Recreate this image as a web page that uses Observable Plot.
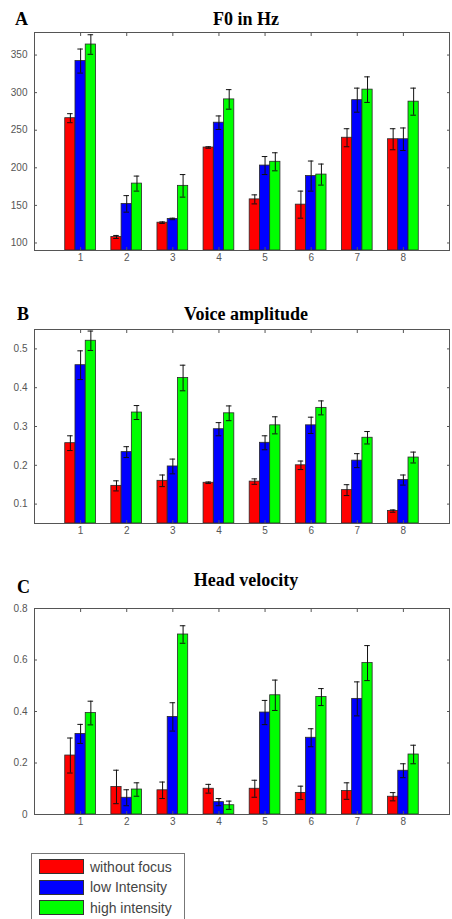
<!DOCTYPE html>
<html>
<head>
<meta charset="utf-8">
<script src="https://cdn.jsdelivr.net/npm/d3@7"></script>
<script src="https://cdn.jsdelivr.net/npm/@observablehq/plot@0.6"></script>
<style>
  body { margin: 0; background: #fff; }
  #root { position: relative; width: 452px; height: 919px; overflow: hidden; background: #fff; }
  .panel { position: absolute; left: 0; }
  .title { position: absolute; font-family: "Liberation Serif", "Times New Roman", serif; font-weight: bold;
           font-size: 18px; line-height: 18px; color: #000; white-space: nowrap; }
  .ctitle { text-align: center; }
  #legend { position: absolute; left: 31px; top: 853px; width: 152px; height: 80px; border: 1px solid #777; background: #fff; }
  .lrow { position: absolute; left: 7px; height: 15px; display: flex; align-items: center; }
  .sw { width: 43px; height: 13px; border: 1px solid #333; }
  .lt { margin-left: 6px; font-family: "Liberation Sans", Arial, sans-serif; font-size: 14px; color: #444; white-space: nowrap; }
</style>
</head>
<body>
<div id="root"></div>
<script>
// ---- data ----
const categories = [1, 2, 3, 4, 5, 6, 7, 8];
const series = ["without focus", "low Intensity", "high intensity"];
const seriesColors = ["#ff0000", "#0000ff", "#00ff00"];

// Panel A: F0 in Hz
const f0Without = [266, 108, 127, 227, 158, 151, 240, 238];
const f0WithoutErr = [6, 2, 1, 1, 6, 18, 12, 14];
const f0Low = [342, 152, 132, 260, 203, 189, 290, 238];
const f0LowErr = [16, 11, 1, 9, 12, 20, 16, 15];
const f0High = [364, 179, 176, 291, 208, 191, 304, 288];
const f0HighErr = [13, 10, 15, 13, 12, 14, 17, 18];
const f0Ticks = [100, 150, 200, 250, 300, 350];

// Panel B: Voice amplitude
const vaWithout = [0.257, 0.147, 0.160, 0.155, 0.158, 0.200, 0.136, 0.082];
const vaWithoutErr = [0.019, 0.013, 0.015, 0.002, 0.007, 0.011, 0.014, 0.003];
const vaLow = [0.458, 0.234, 0.197, 0.293, 0.258, 0.303, 0.212, 0.162];
const vaLowErr = [0.037, 0.014, 0.019, 0.017, 0.018, 0.021, 0.018, 0.013];
const vaHigh = [0.521, 0.336, 0.425, 0.334, 0.303, 0.348, 0.271, 0.220];
const vaHighErr = [0.025, 0.018, 0.033, 0.019, 0.022, 0.018, 0.016, 0.014];
const vaTicks = [0.1, 0.2, 0.3, 0.4, 0.5];

// Panel C: Head velocity
const hvWithout = [0.229, 0.107, 0.094, 0.100, 0.100, 0.084, 0.091, 0.069];
const hvWithoutErr = [0.068, 0.065, 0.032, 0.017, 0.033, 0.026, 0.032, 0.016];
const hvLow = [0.313, 0.065, 0.379, 0.048, 0.396, 0.298, 0.449, 0.170];
const hvLowErr = [0.037, 0.031, 0.055, 0.014, 0.047, 0.035, 0.066, 0.027];
const hvHigh = [0.394, 0.097, 0.699, 0.036, 0.463, 0.456, 0.588, 0.233];
const hvHighErr = [0.046, 0.026, 0.034, 0.016, 0.059, 0.033, 0.068, 0.036];
const hvTicks = [0, 0.2, 0.4, 0.6, 0.8];

// ---- drawing ----
const root = document.getElementById("root");
const groupWidth = 2 / 3;
const barW = groupWidth / series.length;
const capHalf = 0.06;

function makePanel({values, errors, yDomain, yTicks, top, height, marginTop, letter, title, titleTop, letterTop, letterLeft}) {
  const rows = [];
  categories.forEach((c, i) => series.forEach((s, j) => rows.push({cat: c, series: s, j, value: values[j][i], err: errors[j][i]})));
  const left = d => d.cat - groupWidth / 2 + d.j * barW;
  const mid = d => left(d) + barW / 2;
  const chart = Plot.plot({
    width: 452, height, marginTop, marginBottom: 20, marginLeft: 34, marginRight: 3,
    style: {fontSize: "10px", fontFamily: "'Liberation Sans', Arial, sans-serif", color: "#555", background: "transparent"},
    x: {type: "linear", domain: [0, 9], axis: null},
    y: {domain: yDomain, axis: null},
    color: {domain: series, range: seriesColors},
    marks: [
      Plot.rectY(rows, {x1: left, x2: d => left(d) + barW, y1: yDomain[0], y2: "value", fill: "series", stroke: "#2a2a2a", strokeWidth: 0.8}),
      Plot.ruleX(rows, {x: mid, y1: d => d.value - d.err, y2: d => d.value + d.err, stroke: "#111", strokeWidth: 1}),
      Plot.ruleY(rows, {y: d => d.value + d.err, x1: d => mid(d) - capHalf, x2: d => mid(d) + capHalf, stroke: "#111", strokeWidth: 1}),
      Plot.ruleY(rows, {y: d => d.value - d.err, x1: d => mid(d) - capHalf, x2: d => mid(d) + capHalf, stroke: "#111", strokeWidth: 1}),
      Plot.frame({stroke: "#555", strokeWidth: 1}),
      Plot.axisX({anchor: "bottom", ticks: categories, tickSize: -3, tickPadding: 6, label: null, tickFormat: d => String(d)}),
      Plot.axisX({anchor: "top", ticks: categories, tickSize: -3, label: null, tickFormat: () => ""}),
      Plot.axisY({anchor: "left", ticks: yTicks, tickSize: -3, tickPadding: 10, label: null, tickFormat: d => String(d)}),
      Plot.axisY({anchor: "right", ticks: yTicks, tickSize: -3, label: null, tickFormat: () => ""})
    ]
  });
  chart.classList.add("panel");
  chart.style.top = top + "px";
  root.appendChild(chart);

  const t = document.createElement("div");
  t.className = "title ctitle";
  t.style.left = "46px"; t.style.width = "400px"; t.style.top = titleTop + "px";
  t.textContent = title;
  root.appendChild(t);
  const l = document.createElement("div");
  l.className = "title";
  l.style.left = letterLeft + "px"; l.style.top = letterTop + "px";
  l.textContent = letter;
  root.appendChild(l);
}

makePanel({values: [f0Without, f0Low, f0High], errors: [f0WithoutErr, f0LowErr, f0HighErr],
  yDomain: [90, 380], yTicks: f0Ticks, top: 0, height: 270, marginTop: 32,
  letter: "A", title: "F0 in Hz", titleTop: 10, letterTop: 10, letterLeft: 15});
makePanel({values: [vaWithout, vaLow, vaHigh], errors: [vaWithoutErr, vaLowErr, vaHighErr],
  yDomain: [0.05, 0.55], yTicks: vaTicks, top: 300, height: 243, marginTop: 29,
  letter: "B", title: "Voice amplitude", titleTop: 305, letterTop: 305, letterLeft: 17});
makePanel({values: [hvWithout, hvLow, hvHigh], errors: [hvWithoutErr, hvLowErr, hvHighErr],
  yDomain: [0, 0.8], yTicks: hvTicks, top: 580, height: 254, marginTop: 28,
  letter: "C", title: "Head velocity", titleTop: 571, letterTop: 578, letterLeft: 17});

// legend
const legend = document.createElement("div");
legend.id = "legend";
series.forEach((s, i) => {
  const r = document.createElement("div");
  r.className = "lrow";
  r.style.top = (5 + i * 20.5) + "px";
  const sw = document.createElement("div");
  sw.className = "sw";
  sw.style.background = seriesColors[i];
  const tx = document.createElement("span");
  tx.className = "lt";
  tx.textContent = s;
  r.appendChild(sw); r.appendChild(tx);
  legend.appendChild(r);
});
root.appendChild(legend);
</script>
</body>
</html>
